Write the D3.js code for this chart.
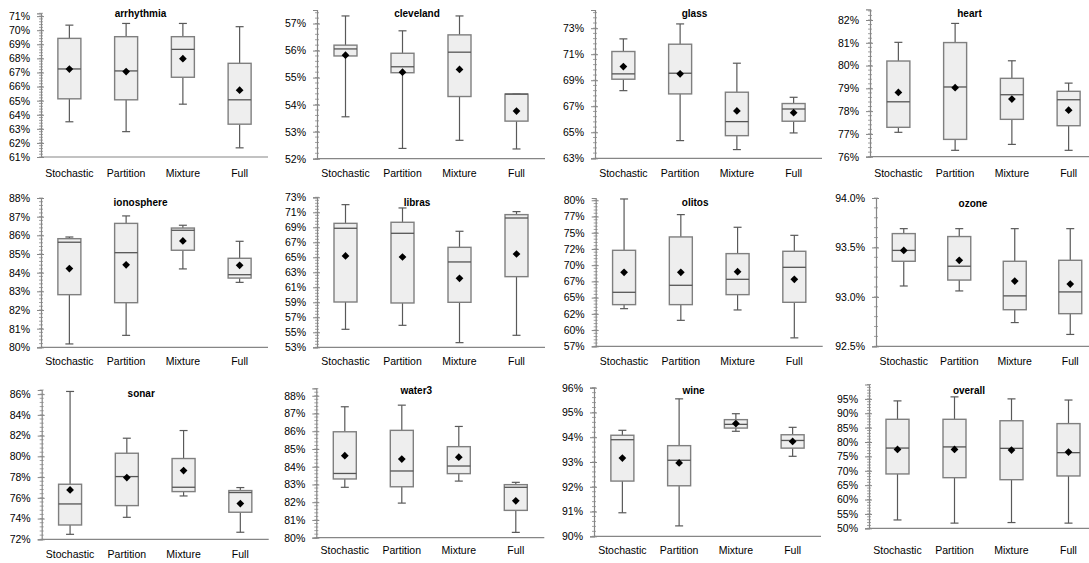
<!DOCTYPE html>
<html>
<head>
<meta charset="utf-8">
<script src="https://cdn.jsdelivr.net/npm/d3@7"></script>
<style>
  body { margin: 0; background: #fff; }
  text { font-family: "Liberation Sans", Arial, sans-serif; fill: #000; }
</style>
</head>
<body>
<svg width="1089" height="563"></svg>
<script>
// methods on the x axis
var methods = ["Stochastic", "Partition", "Mixture", "Full"]

var datasets = ["arrhythmia", "cleveland", "glass", "heart",
                "ionosphere", "libras", "olitos", "ozone",
                "sonar", "water3", "wine", "overall"]

// box statistics, in percent, one row per dataset, one value per method
var whiskerLow = [
  [63.5, 62.8, 64.75, 61.65],
  [53.55, 52.38, 52.68, 52.36],
  [68.2, 64.36, 63.67, 64.95],
  [77.07, 76.28, 76.54, 76.28],
  [80.18, 80.64, 84.2, 83.48],
  [55.4, 55.93, 53.62, 54.6],
  [63.3, 61.5, 63.1, 58.8],
  [93.11, 93.06, 92.74, 92.62],
  [72.48, 74.12, 76.18, 72.68],
  [82.84, 81.95, 83.19, 80.3],
  [90.95, 90.42, 94.24, 93.23],
  [52.9, 51.8, 52.0, 51.8]
]
var quart1 = [
  [65.13, 65.06, 66.66, 63.33],
  [55.8, 55.18, 54.3, 53.39],
  [69.08, 67.95, 64.74, 65.85],
  [77.29, 76.76, 77.64, 77.36],
  [82.82, 82.39, 85.2, 83.71],
  [59.04, 58.91, 59.0, 62.42],
  [63.92, 63.92, 65.46, 64.28],
  [93.36, 93.17, 92.87, 92.83],
  [73.38, 75.25, 76.6, 74.61],
  [83.31, 82.87, 83.61, 81.54],
  [92.23, 92.04, 94.37, 93.56],
  [68.9, 67.6, 66.9, 68.2]
]
var medians = [
  [67.25, 67.11, 68.64, 65.06],
  [56.06, 55.4, 55.94, 54.39],
  [69.49, 69.54, 65.82, 66.79],
  [78.41, 79.06, 78.72, 78.5],
  [85.63, 85.07, 86.27, 83.89],
  [68.87, 68.2, 64.38, 70.24],
  [65.82, 66.9, 67.82, 69.67],
  [93.47, 93.31, 93.01, 93.05],
  [75.41, 78.05, 77.02, 76.51],
  [83.62, 83.76, 84.04, 82.84],
  [93.9, 93.07, 94.52, 93.87],
  [77.9, 78.3, 77.8, 76.3]
]
var quart3 = [
  [69.42, 69.54, 69.54, 67.65],
  [56.2, 55.9, 56.58, 54.39],
  [71.21, 71.77, 68.08, 67.21],
  [80.2, 81.01, 79.44, 78.87],
  [85.82, 86.64, 86.39, 84.77],
  [69.53, 69.67, 66.33, 70.69],
  [72.29, 74.35, 71.78, 72.14],
  [93.64, 93.61, 93.36, 93.37],
  [77.31, 80.3, 79.79, 76.7],
  [85.97, 86.05, 85.13, 82.99],
  [94.08, 93.66, 94.71, 94.1],
  [87.9, 87.9, 87.4, 86.4]
]
var whiskerHigh = [
  [70.36, 70.48, 70.48, 70.25],
  [57.28, 56.73, 57.28, 54.39],
  [72.18, 73.33, 70.31, 67.69],
  [81.02, 81.85, 80.21, 79.23],
  [85.91, 87.04, 86.54, 85.68],
  [72.02, 71.58, 68.47, 71.09],
  [80.2, 77.79, 75.84, 74.6],
  [93.69, 93.69, 93.69, 93.69],
  [86.26, 81.75, 82.49, 76.99],
  [87.38, 87.47, 86.27, 83.12],
  [94.28, 95.55, 94.95, 94.4],
  [94.3, 95.7, 95.0, 94.6]
]
var means = [
  [67.24, 67.06, 67.98, 65.74],
  [55.83, 55.2, 55.3, 53.76],
  [70.05, 69.49, 66.64, 66.51],
  [78.82, 79.03, 78.53, 78.04],
  [84.22, 84.42, 85.7, 84.39],
  [65.18, 65.04, 62.2, 65.44],
  [68.9, 68.9, 69.0, 67.82],
  [93.47, 93.37, 93.16, 93.13],
  [76.76, 77.95, 78.63, 75.45],
  [84.62, 84.43, 84.54, 82.08],
  [93.16, 92.96, 94.55, 93.83],
  [77.4, 77.4, 77.2, 76.5]
]

// y axis extents and tick labels
var yMin = [61, 52, 63, 76, 80, 53, 57.5, 92.5, 72, 80, 90, 50]
var yMax = [71.2, 57.5, 74.4, 82.47, 88, 73, 80.35, 94, 86.4, 88.42, 96, 100]
var yTicks = [
  [61, 62, 63, 64, 65, 66, 67, 68, 69, 70, 71],
  [52, 53, 54, 55, 56, 57],
  [63, 65, 67, 69, 71, 73],
  [76, 77, 78, 79, 80, 81, 82],
  [80, 81, 82, 83, 84, 85, 86, 87, 88],
  [53, 55, 57, 59, 61, 63, 65, 67, 69, 71, 73],
  [57.5, 60, 62.5, 65, 67.5, 70, 72.5, 75, 77.5, 80],
  [92.5, 93, 93.5, 94],
  [72, 74, 76, 78, 80, 82, 84, 86],
  [80, 81, 82, 83, 84, 85, 86, 87, 88],
  [90, 91, 92, 93, 94, 95, 96],
  [50, 55, 60, 65, 70, 75, 80, 85, 90, 95]
]
var oliTickLabels = ["57%", "60%", "62%", "65%", "67%", "70%", "72%", "75%", "77%", "80%"]

// panel placement: plot left, width, y of min, y of max, category label y, title y
var layout = [
  [41, 227, 157, 13.3, 173, 13.3],
  [317, 228, 158.7, 10, 173.3, 13.3],
  [595, 227, 158.3, 10, 173.3, 13.3],
  [870, 227, 156.7, 9.3, 172.7, 13.3],
  [41, 227, 347.3, 198, 361.3, 202],
  [317, 228, 347.3, 197.3, 361.3, 202],
  [595.7, 227, 346.3, 198, 361.3, 202],
  [876, 222, 346.3, 198, 361.3, 203],
  [41.7, 227, 539.3, 390, 554.3, 393.3],
  [316.3, 228, 537.7, 388.3, 550, 390.7],
  [594, 227, 536.3, 387.7, 550, 390.7],
  [869, 228, 528.3, 384.5, 550, 390]
]

var svg = d3.select("svg")

datasets.forEach(function (name, k) {
  var L = layout[k]
  var left = L[0], w = L[1]
  var g = svg.append("g")

  var y = d3.scaleLinear().domain([yMin[k], yMax[k]]).range([L[2], L[3]])
  var x = d3.scaleBand().domain(methods).range([left, left + w])

  // minor ticks (5 per major step), crossing the axis
  var step = yTicks[k][1] - yTicks[k][0]
  var minor = []
  for (var v = yMin[k]; v <= yMax[k] + 1e-9; v += step / 5) minor.push(v)
  g.selectAll(".minor").data(minor).enter().append("line")
      .attr("x1", left - 2).attr("x2", left + 2)
      .attr("y1", function (d) { return y(d) }).attr("y2", function (d) { return y(d) })
      .attr("stroke", "#8c8c8c").attr("stroke-width", 0.8)

  // y axis
  var fmt = k == 7 ? function (d) { return d.toFixed(1) + "%" }
          : k == 6 ? function (d, i) { return oliTickLabels[i] }
          : function (d) { return d + "%" }
  var ax = g.append("g")
      .attr("transform", "translate(" + left + ",0)")
      .call(d3.axisLeft(y).tickValues(yTicks[k]).tickFormat(fmt).tickSize(4).tickPadding(7))
  ax.select(".domain").attr("stroke", "#868686").attr("stroke-width", 1.2)
  ax.selectAll(".tick line").attr("stroke", "#868686").attr("x2", 3).attr("x1", -4)
  ax.selectAll(".tick text").style("font-size", "10.5px").attr("fill", "#000")

  // x axis line + category labels
  g.append("line")
      .attr("x1", left).attr("x2", left + w)
      .attr("y1", L[2]).attr("y2", L[2])
      .attr("stroke", "#868686").attr("stroke-width", 1.2)
  g.selectAll(".cat").data(methods).enter().append("text")
      .attr("x", function (d) { return x(d) + x.bandwidth() / 2 })
      .attr("y", L[4] + 4)
      .attr("text-anchor", "middle")
      .style("font-size", "10.5px")
      .text(function (d) { return d })

  // title
  g.append("text")
      .attr("x", left + w / 2 - 14)
      .attr("y", L[5] + 3.5)
      .attr("text-anchor", "middle")
      .style("font-size", "10px").style("font-weight", "bold")
      .text(name)

  // boxes
  var bw = 23, cap = 8
  methods.forEach(function (m, i) {
    var cx = x(m) + x.bandwidth() / 2
    // whiskers
    g.append("line").attr("x1", cx).attr("x2", cx)
        .attr("y1", y(whiskerHigh[k][i])).attr("y2", y(quart3[k][i]))
        .attr("stroke", "#595959").attr("stroke-width", 1.2)
    g.append("line").attr("x1", cx).attr("x2", cx)
        .attr("y1", y(quart1[k][i])).attr("y2", y(whiskerLow[k][i]))
        .attr("stroke", "#595959").attr("stroke-width", 1.2)
    g.append("line").attr("x1", cx - cap / 2).attr("x2", cx + cap / 2)
        .attr("y1", y(whiskerHigh[k][i])).attr("y2", y(whiskerHigh[k][i]))
        .attr("stroke", "#595959").attr("stroke-width", 1.2)
    g.append("line").attr("x1", cx - cap / 2).attr("x2", cx + cap / 2)
        .attr("y1", y(whiskerLow[k][i])).attr("y2", y(whiskerLow[k][i]))
        .attr("stroke", "#595959").attr("stroke-width", 1.2)
    // box
    g.append("rect")
        .attr("x", cx - bw / 2).attr("width", bw)
        .attr("y", y(quart3[k][i]))
        .attr("height", Math.max(0.5, y(quart1[k][i]) - y(quart3[k][i])))
        .attr("fill", "#eeeeee").attr("stroke", "#7f7f7f").attr("stroke-width", 1.4)
    // median
    g.append("line").attr("x1", cx - bw / 2).attr("x2", cx + bw / 2)
        .attr("y1", y(medians[k][i])).attr("y2", y(medians[k][i]))
        .attr("stroke", "#555555").attr("stroke-width", 1.3)
    // mean
    g.append("path")
        .attr("d", d3.symbol().type(d3.symbolSquare).size(30)())
        .attr("transform", "translate(" + cx + "," + y(means[k][i]) + ") rotate(45)")
        .attr("fill", "#000")
  })
})
</script>
</body>
</html>
